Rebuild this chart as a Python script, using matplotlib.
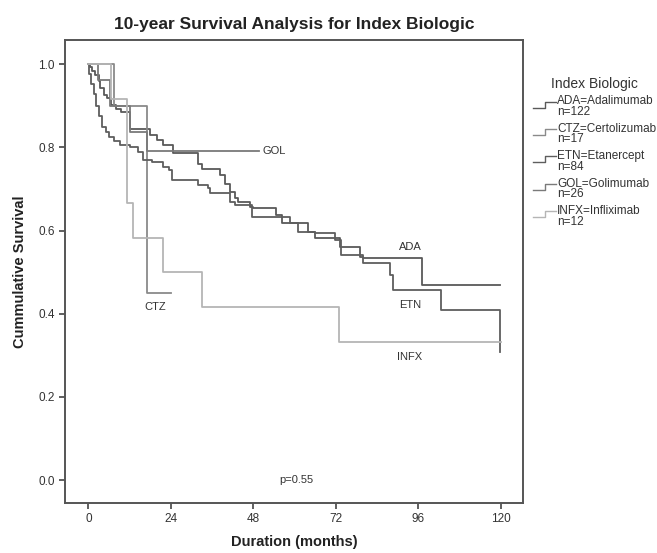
import numpy as np
import matplotlib
matplotlib.use("Agg")
import matplotlib.pyplot as plt
from matplotlib.lines import Line2D
from matplotlib.legend_handler import HandlerBase

plt.rcParams['font.family'] = ['Liberation Sans', 'DejaVu Sans']

# Kaplan-Meier estimates (months, cumulative survival)
ada_t = [0, 0.5, 1, 2, 3, 3.5, 4.5, 5.5, 6.5, 8, 9.5, 12.1, 18, 20, 21.7, 24.6, 32, 33,
         38.3, 39.7, 41.2, 42.6, 43.6, 47, 47.9, 54.7, 56.2, 63.9, 65.9, 73.2, 79, 80,
         96.9, 119.7]
ada_s = [1.0, 0.992, 0.984, 0.975, 0.959, 0.943, 0.926, 0.918, 0.902, 0.893, 0.885, 0.845,
         0.829, 0.817, 0.805, 0.786, 0.761, 0.749, 0.733, 0.713, 0.693, 0.677, 0.669, 0.657,
         0.653, 0.637, 0.617, 0.597, 0.581, 0.561, 0.537, 0.533, 0.469, 0.469]

etn_t = [0, 0.3, 0.8, 1.5, 2.2, 3, 3.9, 5, 6, 7.5, 9.2, 12, 14.5, 16, 18.4, 21.8, 23.3,
         24.2, 32, 34.9, 35.4, 41.2, 42.6, 47.5, 58.6, 61, 66, 71.7, 73.6, 80, 87.7, 88.7,
         102.7, 119.7]
etn_s = [1.0, 0.976, 0.952, 0.928, 0.90, 0.875, 0.849, 0.837, 0.825, 0.815, 0.805, 0.80,
         0.789, 0.769, 0.765, 0.753, 0.745, 0.721, 0.709, 0.701, 0.689, 0.669, 0.661, 0.633,
         0.617, 0.597, 0.593, 0.577, 0.541, 0.521, 0.493, 0.457, 0.409, 0.308]

gol_t = [0, 2.9, 6.3, 12.1, 17, 49.5]
gol_s = [1.0, 0.962, 0.90, 0.837, 0.79, 0.79]

ctz_t = [0, 7.3, 17, 24]
ctz_s = [1.0, 0.90, 0.45, 0.45]

infx_t = [0, 6.5, 11.2, 13, 21.8, 33, 73, 120]
infx_s = [1.0, 0.917, 0.667, 0.583, 0.5, 0.417, 0.333, 0.333]

codes = ['ADA', 'CTZ', 'ETN', 'GOL', 'INFX']
names = ['Adalimumab', 'Certolizumab', 'Etanercept', 'Golimumab', 'Infliximab']
counts = [122, 17, 84, 26, 12]
colors = ['#595959', '#8a8a8a', '#5e5e5e', '#7a7a7a', '#b5b5b5']
curves = {'ADA': (ada_t, ada_s), 'CTZ': (ctz_t, ctz_s), 'ETN': (etn_t, etn_s),
          'GOL': (gol_t, gol_s), 'INFX': (infx_t, infx_s)}

# where the curve labels sit (data coords)
label_pos = {'GOL': (50.5, 0.79), 'ADA': (93.5, 0.56), 'ETN': (93.5, 0.42),
             'INFX': (93.5, 0.296), 'CTZ': (19.5, 0.417)}
x_ticks = [0, 24, 48, 72, 96, 120]
y_ticks = [0.0, 0.2, 0.4, 0.6, 0.8, 1.0]


class StepHandler(HandlerBase):
    def create_artists(self, legend, orig_handle, xdescent, ydescent,
                       width, height, fontsize, trans):
        xs = np.array([0, 0.5, 0.5, 1.0]) * width - xdescent
        ys = np.array([0.0, 0.0, 0.7, 0.7]) * height - ydescent + height * 0.45
        ln = Line2D(xs, ys, color=orig_handle.get_color(), lw=1.0)
        ln.set_transform(trans)
        return [ln]


fig = plt.figure(figsize=(6.57, 5.53), dpi=100)
ax = fig.add_axes([0.099, 0.0904, 0.697, 0.8373])

handles = []
for code, col in zip(codes, colors):
    t, s = curves[code]
    h, = ax.step(t, s, where='post', color=col, lw=1.3)
    handles.append(h)
    lx, ly = label_pos[code]
    ax.text(lx, ly, code, fontsize=8, color='#333333', ha='center' if code != 'GOL' else 'left',
            va='center')

ax.text(60.6, 0.0, 'p=0.55', fontsize=8, color='#333333', ha='center', va='center')

ax.set_xlim(-6.8, 126.4)
ax.set_ylim(-0.055, 1.058)
ax.set_xticks(x_ticks)
ax.set_yticks(y_ticks)
ax.set_yticklabels(['%.1f' % v for v in y_ticks])
ax.tick_params(direction='out', length=4, width=1.2, colors='#444444', labelsize=8.5,
               labelcolor='#333333')
for sp in ax.spines.values():
    sp.set_color('#555555')
    sp.set_linewidth(1.4)

ax.set_title('10-year Survival Analysis for Index Biologic', fontsize=12.5, fontweight='bold',
             color='#222222', pad=8)
ax.set_xlabel('Duration (months)', fontsize=10.5, fontweight='bold', color='#222222', labelpad=7)
ax.set_ylabel('Cummulative Survival', fontsize=10.5, fontweight='bold', color='#222222', labelpad=8)

labels = ['%s=%s\nn=%d' % (c, n, k) for c, n, k in zip(codes, names, counts)]
leg = fig.legend(handles, labels, loc='upper left', bbox_to_anchor=(0.803, 0.872),
                 frameon=False, fontsize=8.5, title='Index Biologic', title_fontsize=10,
                 handler_map={Line2D: StepHandler()}, handlelength=1.9, handletextpad=0.1,
                 labelspacing=0.4, borderpad=0)
for txt in leg.get_texts():
    txt.set_color('#333333')
    txt.set_linespacing(0.85)
leg.get_title().set_color('#333333')

fig.savefig('out.png', dpi=100)
